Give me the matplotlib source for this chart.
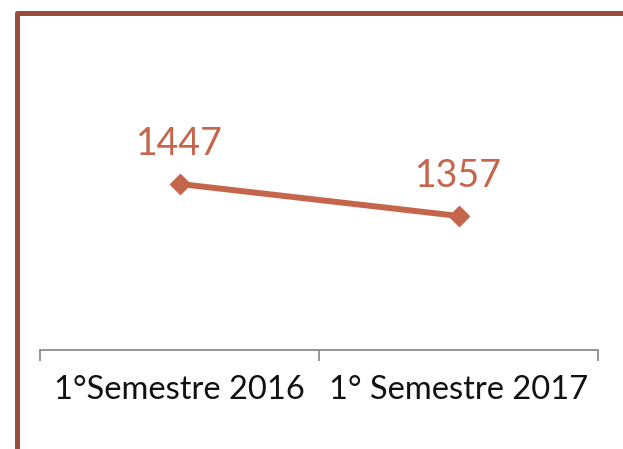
"""Line chart: comparison of two semesters."""
import matplotlib.pyplot as plt
from matplotlib.patches import Rectangle

categories = ["1°Semestre 2016", "1° Semestre 2017"]
values = [1447, 1357]

LINE_COLOR = "#C5654B"
FRAME_COLOR = "#9B4D3B"

plt.rcParams["font.family"] = ["Lato", "DejaVu Sans"]

fig = plt.figure(figsize=(6.23, 4.49), dpi=100)
W, H = 623, 449

# --- frame around the slide area ---
fig.patches.append(
    Rectangle(
        (16.5 / W, -0.2), 1.2, 1.2 - 13.5 / H,
        transform=fig.transFigure, fill=False,
        edgecolor=FRAME_COLOR, linewidth=3.6, joinstyle="round",
    )
)

ax = fig.add_axes([40 / W, 1 - 350 / H, 558 / W, 320 / H])
x = list(range(len(categories)))
ax.plot(x, values, color=LINE_COLOR, linewidth=4.3, marker="D",
        markersize=10, solid_capstyle="round")

for xi, v in zip(x, values):
    ax.annotate(str(v), (xi, v), xytext=(0, 21), textcoords="offset points",
                ha="center", va="baseline", color=LINE_COLOR, fontsize=27)

ax.set_xlim(-0.5, 1.5)
ax.set_ylim(980, 1880)

for side in ["top", "right", "left"]:
    ax.spines[side].set_visible(False)
ax.spines["bottom"].set_color("#8C8C8C")
ax.spines["bottom"].set_linewidth(1.3)

ax.set_yticks([])
ax.set_xticks(x)
ax.set_xticklabels(categories, fontsize=23.5, color="#111111")
ax.tick_params(axis="x", which="major", length=0, pad=18)
ax.set_xticks([-0.5, 0.5, 1.5], minor=True)
ax.tick_params(axis="x", which="minor", length=8, width=1.3, color="#8C8C8C")

fig.savefig("out.png", dpi=100)
plt.close(fig)
